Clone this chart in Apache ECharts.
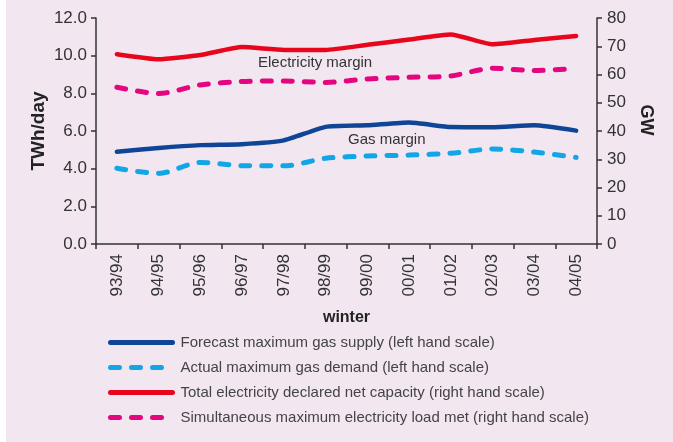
<!DOCTYPE html>
<html>
<head>
<meta charset="utf-8">
<script src="https://cdn.jsdelivr.net/npm/echarts@6/dist/echarts.min.js"></script>
<style>
  html, body { margin: 0; padding: 0; background: #fff; }
  #chart { position: absolute; left: 6px; top: 0; width: 667px; height: 442px; background: #f2e7f1; }
</style>
</head>
<body>
<div id="chart"></div>
<script>
  // winters on the x axis
  const winters = ['93/94', '94/95', '95/96', '96/97', '97/98', '98/99', '99/00', '00/01', '01/02', '02/03', '03/04', '04/05'];
  // TWh/day (left scale)
  const gasSupply = [4.9, 5.1, 5.25, 5.3, 5.5, 6.22, 6.3, 6.45, 6.21, 6.2, 6.3, 6.02];
  const gasDemand = [4.02, 3.75, 4.33, 4.16, 4.15, 4.55, 4.67, 4.72, 4.82, 5.04, 4.88, 4.6];
  // GW (right scale)
  const elecCapacity = [67.2, 65.4, 66.9, 69.7, 68.7, 68.7, 70.5, 72.4, 74.2, 70.7, 72.2, 73.6];
  const elecLoad = [55.5, 53.3, 56.3, 57.5, 57.7, 57.2, 58.4, 59.0, 59.5, 62.2, 61.4, 62.2];

  const leftTicks = [0, 2, 4, 6, 8, 10, 12];
  const rightTicks = [0, 10, 20, 30, 40, 50, 60, 70, 80];

  const axisCol = '#333';
  const font = 'Liberation Sans';

  let myChart = echarts.init(document.getElementById('chart'));
  myChart.setOption({
    backgroundColor: '#f2e7f1',
    animation: false,
    textStyle: { fontFamily: font },
    grid: { left: 90, right: 76, top: 18, bottom: 198 },
    legend: {
      orient: 'vertical',
      left: 97,
      top: 330,
      itemWidth: 62,
      itemHeight: 10,
      itemGap: 10,
      itemStyle: { opacity: 0 },
      lineStyle: { width: 5 },
      textStyle: { color: '#444', fontSize: 15, fontFamily: font, padding: [0, 0, 0, 3] },
      data: [
        'Forecast maximum gas supply (left hand scale)',
        'Actual maximum gas demand (left hand scale)',
        'Total electricity declared net capacity (right hand scale)',
        'Simultaneous maximum electricity load met (right hand scale)'
      ]
    },
    xAxis: {
      type: 'category',
      data: winters,
      boundaryGap: true,
      name: 'winter',
      nameLocation: 'middle',
      nameGap: 66,
      nameTextStyle: { fontWeight: 'bold', fontSize: 16, color: '#222' },
      axisLine: { lineStyle: { color: axisCol, width: 1.5 } },
      axisTick: { show: true, length: 5, lineStyle: { color: axisCol, width: 1.5 } },
      axisLabel: { rotate: 90, color: '#333', fontSize: 17, margin: 10 }
    },
    yAxis: [
      {
        type: 'value',
        min: leftTicks[0],
        max: leftTicks[leftTicks.length - 1],
        interval: 2,
        name: 'TWh/day',
        nameLocation: 'middle',
        nameGap: 48,
        nameMoveOverlap: false,
        nameTextStyle: { fontWeight: 'bold', fontSize: 19, color: '#222' },
        splitLine: { show: false },
        axisLine: { show: true, lineStyle: { color: axisCol, width: 1.5 } },
        axisTick: { show: true, length: 5, lineStyle: { color: axisCol, width: 1.5 } },
        axisLabel: { color: '#333', fontSize: 17, margin: 9, formatter: v => v.toFixed(1) }
      },
      {
        type: 'value',
        min: rightTicks[0],
        max: rightTicks[rightTicks.length - 1],
        interval: 10,
        name: 'GW',
        nameLocation: 'middle',
        nameGap: 32,
        nameRotate: -90,
        nameTextStyle: { fontWeight: 'bold', fontSize: 18, color: '#222', padding: [0, 22, 0, 0] },
        splitLine: { show: false },
        axisLine: { show: true, lineStyle: { color: axisCol, width: 1.5 } },
        axisTick: { show: true, length: 5, lineStyle: { color: axisCol, width: 1.5 } },
        axisLabel: { color: '#333', fontSize: 17, margin: 10 }
      }
    ],
    graphic: [
      { type: 'text', left: 252, top: 55, style: { text: 'Electricity margin', fill: '#333', fontSize: 15, fontFamily: font } },
      { type: 'text', left: 342, top: 132, style: { text: 'Gas margin', fill: '#333', fontSize: 15, fontFamily: font } }
    ],
    series: [
      {
        name: 'Forecast maximum gas supply (left hand scale)',
        type: 'line', yAxisIndex: 0, data: gasSupply, symbol: 'none', smooth: 0.15,
        color: '#0f4597',
        lineStyle: { width: 4.5, cap: 'round', join: 'round' }
      },
      {
        name: 'Actual maximum gas demand (left hand scale)',
        type: 'line', yAxisIndex: 0, data: gasDemand, symbol: 'none', smooth: 0.3,
        color: '#12a6e6',
        lineStyle: { width: 5, type: [9, 12], cap: 'round', join: 'round' }
      },
      {
        name: 'Total electricity declared net capacity (right hand scale)',
        type: 'line', yAxisIndex: 1, data: elecCapacity, symbol: 'none', smooth: 0.15,
        color: '#e8061c',
        lineStyle: { width: 4.5, cap: 'round', join: 'round' }
      },
      {
        name: 'Simultaneous maximum electricity load met (right hand scale)',
        type: 'line', yAxisIndex: 1, data: elecLoad, symbol: 'none', smooth: 0.3,
        color: '#e4067f',
        lineStyle: { width: 5, type: [9, 12], cap: 'round', join: 'round' }
      }
    ]
  });
</script>
</body>
</html>
